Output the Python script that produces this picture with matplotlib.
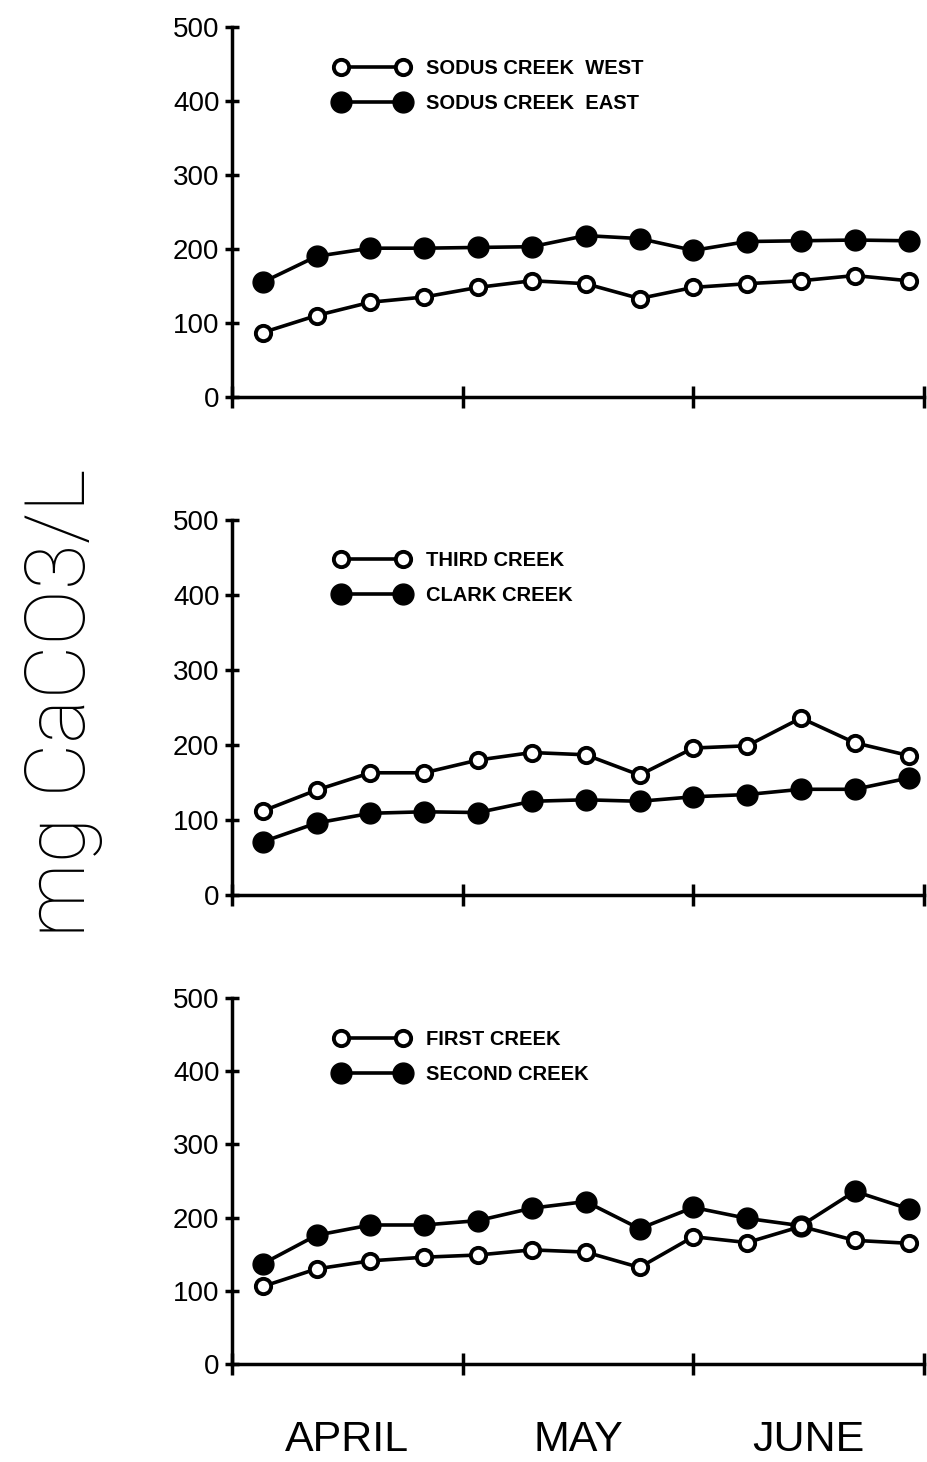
"""
Weekly hardness (mg CaCO3/L) of six creeks, April to June.
"""
import matplotlib
matplotlib.use('Agg')
import matplotlib.pyplot as plt

# sample days counted from 1 April
days = [4, 11, 18, 25, 32, 39, 46, 53, 60, 67, 74, 81, 88]

sodus_west = [87, 110, 128, 135, 148, 157, 153, 133, 148, 153, 157, 164, 157]
sodus_east = [155, 190, 201, 201, 202, 203, 218, 214, 198, 210, 211, 212, 211]

third_creek = [112, 140, 163, 163, 180, 190, 187, 160, 196, 199, 236, 203, 186]
clark_creek = [71, 96, 109, 111, 110, 125, 127, 125, 131, 134, 141, 141, 156]

first_creek = [106, 130, 141, 146, 149, 156, 153, 132, 174, 166, 188, 169, 165]
second_creek = [137, 176, 190, 190, 196, 213, 222, 185, 214, 199, 189, 236, 212]

panels = [
    ('SODUS CREEK  WEST', sodus_west, 'SODUS CREEK  EAST', sodus_east),
    ('THIRD CREEK', third_creek, 'CLARK CREEK', clark_creek),
    ('FIRST CREEK', first_creek, 'SECOND CREEK', second_creek),
]

month_ticks = [15, 45, 75]
month_labels = ['APRIL', 'MAY', 'JUNE']
y_ticks = [0, 100, 200, 300, 400, 500]

# axes rectangles in figure fractions (left, bottom, width, height)
rects = [
    (0.25, 0.7285, 0.7457, 0.2531),
    (0.25, 0.3878, 0.7457, 0.2565),
    (0.25, 0.0670, 0.7457, 0.2503),
]
legend_tops = [0.914, 0.918, 0.914]

fig = plt.figure(figsize=(9.28, 14.62), dpi=100)

for i, (open_name, open_vals, fill_name, fill_vals) in enumerate(panels):
    ax = fig.add_axes(rects[i])
    ax.plot(days, fill_vals, color='black', linewidth=2.6, marker='o',
            markersize=15, markerfacecolor='black', markeredgecolor='black',
            label=fill_name, zorder=3)
    ax.plot(days, open_vals, color='black', linewidth=2.6, marker='o',
            markersize=11, markerfacecolor='white', markeredgecolor='black',
            markeredgewidth=2.8, label=open_name, zorder=4)

    ax.set_xlim(0, 90)
    ax.set_ylim(0, 500)
    ax.spines['top'].set_visible(False)
    ax.spines['right'].set_visible(False)
    ax.spines['left'].set_linewidth(2.5)
    ax.spines['bottom'].set_linewidth(2.5)

    ax.set_yticks(y_ticks)
    ax.set_yticklabels([str(v) for v in y_ticks], family='Liberation Sans',
                       fontsize=20)
    ax.tick_params(axis='y', direction='inout', length=10, width=2.5, pad=4)

    ax.set_xticks([0, 30, 60, 90])
    ax.set_xticklabels([])
    ax.tick_params(axis='x', which='major', direction='inout', length=16,
                   width=2.5)
    if i == 2:
        ax.set_xticks(month_ticks, minor=True)
        ax.set_xticklabels(month_labels, minor=True, family='Liberation Sans',
                           fontsize=31)
        ax.tick_params(axis='x', which='minor', length=0, pad=40)

    handles, labels = ax.get_legend_handles_labels()
    ax.legend(handles[::-1], labels[::-1], loc='upper left',
              bbox_to_anchor=(0.149, legend_tops[i]), frameon=False,
              numpoints=2, handlelength=3.66, handletextpad=0.85,
              labelspacing=0.82, borderpad=0, borderaxespad=0,
              prop={'family': 'Liberation Sans', 'weight': 'bold',
                    'size': 14.5})

fig.text(0.068, 0.519, 'mg CaCO3/L', rotation=90, ha='center', va='center',
         family='Roboto', weight='light', fontsize=60, color='black')

plt.savefig('out.png', dpi=100)
plt.close()
